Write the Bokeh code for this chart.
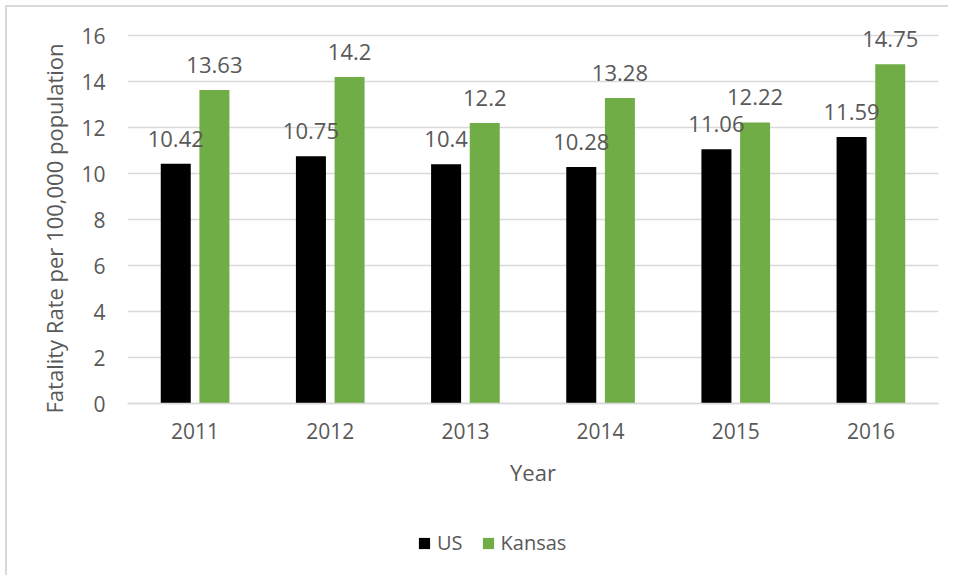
from bokeh.plotting import figure
from bokeh.models import (FactorRange, Range1d, ColumnDataSource, LabelSet, Legend,
                          LegendItem, FixedTicker, Title)
from bokeh.transform import dodge
from bokeh.core.properties import value
from bokeh.embed import file_html
from bokeh.resources import INLINE

years = ["2011", "2012", "2013", "2014", "2015", "2016"]
us = [10.42, 10.75, 10.4, 10.28, 11.06, 11.59]
kansas = [13.63, 14.2, 12.2, 13.28, 12.22, 14.75]
y_ticks = [0, 2, 4, 6, 8, 10, 12, 14, 16]

FONT = "Open Sans"
TXT = "#595959"
GRID = "#D9D9D9"

src = ColumnDataSource(dict(
    years=years, us=us, kansas=kansas,
    us_lbl=["{:g}".format(v) for v in us],
    ks_lbl=["{:g}".format(v) for v in kansas],
))

p = figure(width=943, height=570, x_range=FactorRange(*years, range_padding=0),
           y_range=Range1d(-7, 16.48), output_backend="svg", toolbar_location=None,
           min_border_left=120, min_border_right=12, min_border_top=17, min_border_bottom=13)
p.margin = (5, 0, 0, 5)
p.styles = {"border-left": "2px solid #D9D9D9", "border-top": "2px solid #D9D9D9"}
p.outline_line_color = None

r_us = p.vbar(x=dodge("years", -0.143, range=p.x_range), top="us", width=0.222,
              source=src, fill_color="#000000", line_color=None)
r_ks = p.vbar(x=dodge("years", 0.143, range=p.x_range), top="kansas", width=0.222,
              source=src, fill_color="#70AD47", line_color=None)

for col, lbl, off in (("us", "us_lbl", -0.143), ("kansas", "ks_lbl", 0.143)):
    ls = LabelSet(x=dodge("years", off, range=p.x_range), y=col, text=lbl, source=src,
                  text_align="center", text_baseline="alphabetic", y_offset=17,
                  text_font=value(FONT), text_font_size="22px", text_color=TXT)
    p.add_layout(ls)

p.yaxis.ticker = FixedTicker(ticks=y_ticks)
p.ygrid.ticker = FixedTicker(ticks=y_ticks)
p.ygrid.grid_line_color = GRID
p.ygrid.grid_line_width = 1.5
p.xgrid.grid_line_color = None

for ax in (p.xaxis, p.yaxis):
    ax.major_tick_line_color = None
    ax.minor_tick_line_color = None
    ax.major_tick_out = 0
    ax.major_tick_in = 0
    ax.minor_tick_out = 0
    ax.minor_tick_in = 0
    ax.major_label_text_font = FONT
    ax.major_label_text_font_size = "21px"
    ax.major_label_text_color = TXT
    ax.axis_label_text_font = FONT
    ax.axis_label_text_font_size = "22px"
    ax.axis_label_text_color = TXT
    ax.axis_label_text_font_style = "normal"

p.yaxis.axis_line_color = None
p.yaxis.major_label_standoff = 22

p.add_layout(Title(text="Fatality Rate per 100,000 population", align="right", offset=19,
                   text_font=FONT, text_font_size="22px", text_color=TXT,
                   text_font_style="normal", standoff=19), "left")

p.xaxis.fixed_location = 0
p.xaxis.axis_line_color = GRID
p.xaxis.axis_line_width = 1.5
p.xaxis.major_label_standoff = 19
p.xaxis.axis_label = "Year"
p.xaxis.axis_label_standoff = 15

legend = Legend(items=[LegendItem(label="US", renderers=[r_us]),
                       LegendItem(label="Kansas", renderers=[r_ks])],
                orientation="horizontal", location=(290, 8),
                glyph_width=14, glyph_height=14, label_standoff=6, spacing=18,
                label_text_font=FONT, label_text_font_size="20px", label_text_color=TXT,
                border_line_color=None, background_fill_alpha=0, margin=0, padding=0)
p.add_layout(legend, "center")

open("out.html", "w").write(file_html(p, INLINE))
